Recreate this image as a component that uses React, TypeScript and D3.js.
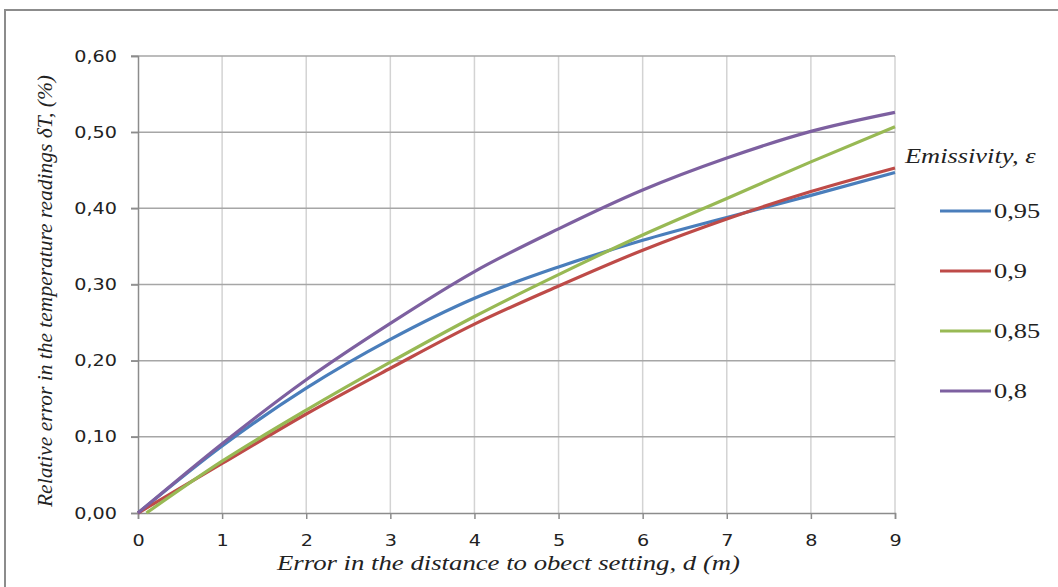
import React, { useEffect, useRef } from 'react';
import * as d3 from 'd3';

// distances (m)
const distances = [0, 1, 2, 3, 4, 5, 6, 7, 8, 9];
const seriesNames = ['0,95', '0,9', '0,85', '0,8'];
const colors = ['#4a7ebb', '#be4b48', '#98b954', '#7d60a0'];

const e095 = [0, 0.088, 0.164, 0.228, 0.282, 0.323, 0.358, 0.388, 0.417, 0.447];
const e090 = [0, 0.065, 0.13, 0.19, 0.248, 0.298, 0.345, 0.386, 0.422, 0.453];
const e085 = [0, 0.068, 0.135, 0.198, 0.258, 0.313, 0.365, 0.413, 0.461, 0.507];
const e080 = [0, 0.091, 0.175, 0.249, 0.317, 0.373, 0.424, 0.466, 0.501, 0.526];

const yTicks = [0, 0.1, 0.2, 0.3, 0.4, 0.5, 0.6];

const SX = 1.2; // the picture's text is a bit stretched sideways

function App() {
  const ref = useRef<SVGSVGElement>(null);

  useEffect(() => {
    const svg = d3.select(ref.current);
    svg.selectAll('*').remove();

    const x = d3.scaleLinear().domain([0, 9]).range([138, 895]);
    const y = d3.scaleLinear().domain([0, 0.6]).range([513, 56]);

    // outer frame (only left and top visible)
    svg.append('path')
      .attr('d', 'M5,587 L5,10 L1058,10')
      .attr('fill', 'none')
      .attr('stroke', '#8c8c8c')
      .attr('stroke-width', 2);

    // vertical grid
    svg.append('g')
      .selectAll('line')
      .data(distances.slice(1))
      .join('line')
      .attr('x1', d => x(d)).attr('x2', d => x(d))
      .attr('y1', y(0)).attr('y2', y(0.6))
      .attr('stroke', '#d3d3d3')
      .attr('stroke-width', 1.5);

    // horizontal grid
    svg.append('g')
      .selectAll('line')
      .data(yTicks.slice(1))
      .join('line')
      .attr('x1', 131).attr('x2', x(9))
      .attr('y1', d => y(d)).attr('y2', d => y(d))
      .attr('stroke', '#a6a6a6')
      .attr('stroke-width', 1.5);

    // axes
    const yAxis = d3.axisLeft(y).tickValues(yTicks).tickSize(7).tickPadding(10.5)
      .tickFormat(d => d3.format('.2f')(d as number).replace('.', ','));
    const gy = svg.append('g').attr('transform', `translate(${x(0)},0)`).call(yAxis);
    gy.select('.domain').attr('stroke', '#8c8c8c').attr('stroke-width', 1.5);
    gy.selectAll('.tick line').attr('stroke', '#8c8c8c').attr('stroke-width', 1.5);
    gy.selectAll('.tick text')
      .attr('font-family', 'DejaVu Sans').attr('font-size', 16).attr('fill', '#222')
      .attr('transform', `scale(${SX},1)`);

    const xAxis = d3.axisBottom(x).tickValues(distances).tickSize(6).tickPadding(16)
      .tickFormat(d => String(d));
    const gx = svg.append('g').attr('transform', `translate(0,${y(0)})`).call(xAxis);
    gx.select('.domain').attr('stroke', '#8c8c8c').attr('stroke-width', 1.5);
    gx.selectAll('.tick line').attr('stroke', '#8c8c8c').attr('stroke-width', 1.5);
    gx.selectAll('.tick text')
      .attr('font-family', 'DejaVu Sans').attr('font-size', 16).attr('fill', '#222')
      .attr('transform', `scale(${SX},1)`);

    // lines
    const allSeries = [e095, e090, e085, e080];
    const line = d3.line<[number, number]>()
      .x(d => x(d[0]))
      .y(d => y(d[1]))
      .curve(d3.curveMonotoneX);

    allSeries.forEach((vals, i) => {
      const pts: [number, number][] = distances.map((d, j) => [d, vals[j]]);
      if (i === 2) pts[0] = [0.1, 0];
      svg.append('path')
        .datum(pts)
        .attr('d', line)
        .attr('fill', 'none')
        .attr('stroke', colors[i])
        .attr('stroke-width', 3.2);
    });

    // axis titles
    svg.append('text')
      .attr('x', 277).attr('y', 570)
      .attr('textLength', 463).attr('lengthAdjust', 'spacingAndGlyphs')
      .attr('font-family', 'Liberation Serif').attr('font-style', 'italic')
      .attr('font-size', 22).attr('fill', '#222')
      .text('Error in the distance to obect setting, d (m)');

    svg.append('text')
      .attr('transform', 'translate(52,507) rotate(-90)')
      .attr('textLength', 432).attr('lengthAdjust', 'spacingAndGlyphs')
      .attr('font-family', 'Liberation Serif').attr('font-style', 'italic')
      .attr('font-size', 22).attr('fill', '#222')
      .text('Relative error in the temperature readings δT, (%)');

    // legend
    svg.append('text')
      .attr('transform', `translate(905,163) scale(${SX},1)`)
      .attr('font-family', 'Liberation Serif').attr('font-style', 'italic')
      .attr('font-size', 22).attr('fill', '#222')
      .text('Emissivity, ε');

    const leg = svg.append('g')
      .selectAll('g')
      .data(seriesNames)
      .join('g')
      .attr('transform', (d, i) => `translate(940,${211 + i * 60})`);
    leg.append('line')
      .attr('x1', 0).attr('x2', 51).attr('y1', 0).attr('y2', 0)
      .attr('stroke', (d, i) => colors[i]).attr('stroke-width', 3.2);
    leg.append('text')
      .attr('transform', `translate(54,7) scale(${SX},1)`)
      .attr('font-family', 'Liberation Serif')
      .attr('font-size', 22).attr('fill', '#222')
      .text(d => d);
  }, []);

  return (
    <svg ref={ref} width={1058} height={587}
      style={{ position: 'absolute', left: 0, top: 0, background: '#fff' }} />
  );
}

export default App;
